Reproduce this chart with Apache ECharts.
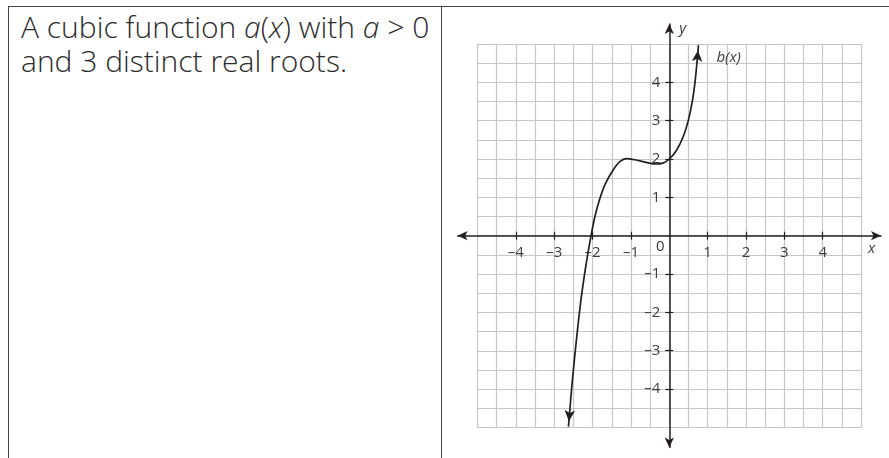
<!DOCTYPE html>
<html>
<head>
<meta charset="utf-8">
<script src="https://cdn.jsdelivr.net/npm/echarts@6/dist/echarts.min.js"></script>
<style>
  html, body { margin: 0; padding: 0; background: #fff; }
  #wrap { position: relative; width: 889px; height: 458px; overflow: hidden; }
  #cell { position: absolute; left: 8px; top: 6px; width: 432px; height: 470px;
          border-left: 1px solid #444; border-top: 1px solid #444; border-right: 1px solid #444; }
  #topline { position: absolute; left: 441px; top: 6px; width: 460px; border-top: 1px solid #444; }
  #txt { position: absolute; left: 21px; top: 10px; font-family: 'Open Sans', sans-serif; font-weight: 300;
         font-size: 30px; line-height: 34px; color: #2b2b2b; white-space: nowrap; }
  #main { position: absolute; left: 0; top: 0; width: 889px; height: 458px; }
</style>
</head>
<body>
<div id="wrap">
  <div id="cell"></div>
  <div id="topline"></div>
  <div id="txt">A cubic function <i>a</i>(<i>x</i>) with <i>a</i> &gt; 0<br>and 3 distinct real roots.</div>
  <div id="main"></div>
</div>
<script>
// 刻度
var xTicks = [-4, -3, -2, -1, 1, 2, 3, 4];
var xLabels = [-4, -3, -2, -1, 0, 1, 2, 3, 4];
var yTicks = [-4, -3, -2, -1, 1, 2, 3, 4];

// b(x) 曲线上读出的点
var curveX = [-2.63, -2.53, -2.42, -2.30, -2.17, -2.04, -1.94, -1.81, -1.66, -1.46, -1.29, -1.12, -0.90, -0.60, -0.35, -0.15, 0, 0.19, 0.37, 0.50, 0.60, 0.67, 0.72, 0.76];
var curveY = [-4.98, -3.80, -2.70, -1.65, -0.75, 0, 0.50, 0.97, 1.37, 1.72, 1.93, 2.01, 1.98, 1.91, 1.87, 1.90, 2.00, 2.23, 2.60, 3.02, 3.50, 4.00, 4.50, 4.97];

var gridMax = 5;		// 方格范围
var axisMax = 5.52;		// 坐标轴范围（含箭头）
var unit = 38.35;		// 每单位像素
var ox = 669.3, oy = 235.7;	// 原点
var shift = -axisMax * unit;	// 坐标轴移到 0 处

var ink = '#231f20';
var gridColor = '#c6c6c6';
var labelColor = '#3d3d3d';

function dash(v){
	return v < 0 ? '\u2013' + Math.abs(v) : '' + v;
}

// 端点箭头
function arrowItem(p, prev){
	var ang = Math.atan2(p[1] - prev[1], p[0] - prev[0]);
	var h = 11;
	return {
		value: p,
		symbol: 'arrow',
		symbolSize: [8, h],
		symbolRotate: ang * 180 / Math.PI - 90,
		symbolOffset: [-Math.cos(ang) * h / 2, Math.sin(ang) * h / 2]
	};
}

var pts = [];
for (var i = 0; i < curveX.length; i++) pts.push([curveX[i], curveY[i]]);
var lineData = pts.map(function(p){ return p; });
lineData[0] = arrowItem(pts[0], pts[1]);
lineData[pts.length - 1] = arrowItem(pts[pts.length - 1], pts[pts.length - 2]);

var chart = echarts.init(document.getElementById('main'));

var hidden = { show: false };
var option = {
	animation: false,
	grid: [
		{ left: ox - gridMax * unit, top: oy - gridMax * unit, width: 2 * gridMax * unit, height: 2 * gridMax * unit,
		  containLabel: false, outerBoundsMode: 'none' },
		{ left: ox - axisMax * unit, top: oy - axisMax * unit, width: 2 * axisMax * unit, height: 2 * axisMax * unit,
		  containLabel: false, outerBoundsMode: 'none' }
	],
	xAxis: [
		{
			type: 'value', gridIndex: 0, min: -gridMax, max: gridMax, interval: 0.5,
			axisLine: hidden, axisTick: hidden, axisLabel: hidden,
			splitLine: { show: true, lineStyle: { color: gridColor, width: 1.2 } }
		},
		{
			type: 'value', gridIndex: 1, min: -axisMax, max: axisMax, position: 'bottom', offset: shift,
			name: 'x', nameLocation: 'end', nameGap: -13,
			nameTextStyle: { fontFamily: 'Open Sans', fontStyle: 'italic', fontSize: 15, color: labelColor,
				verticalAlign: 'top', padding: [6, 0, 0, 0] },
			axisLine: { show: true, onZero: false, symbol: ['arrow', 'arrow'], symbolSize: [7, 10],
				lineStyle: { color: ink, width: 1.5 } },
			axisTick: { show: true, length: 4, customValues: xTicks, lineStyle: { color: ink, width: 1.2 } },
			axisLabel: {
				show: true, margin: 4, customValues: xLabels, fontFamily: 'Open Sans', fontSize: 15, color: labelColor,
				formatter: function(v){ return v === 0 ? '{z|0}' : '{n|' + dash(v) + '}'; },
				rich: {
					n: { fontFamily: 'Open Sans', fontSize: 15, color: labelColor, padding: [6, 0, 0, 0] },
					z: { fontFamily: 'Open Sans', fontSize: 15, color: labelColor, padding: [0, 18, 0, 0] }
				}
			},
			splitLine: hidden
		},
		{
			type: 'value', gridIndex: 1, min: -axisMax, max: axisMax, position: 'bottom', offset: shift,
			axisLine: { show: false, onZero: false },
			axisTick: { show: true, inside: true, length: 4, customValues: xTicks, lineStyle: { color: ink, width: 1.2 } },
			axisLabel: hidden, splitLine: hidden
		}
	],
	yAxis: [
		{
			type: 'value', gridIndex: 0, min: -gridMax, max: gridMax, interval: 0.5,
			axisLine: hidden, axisTick: hidden, axisLabel: hidden,
			splitLine: { show: true, lineStyle: { color: gridColor, width: 1.2 } }
		},
		{
			type: 'value', gridIndex: 1, min: -axisMax, max: axisMax, position: 'left', offset: shift,
			name: 'y', nameLocation: 'end', nameGap: -12,
			nameTextStyle: { fontFamily: 'Open Sans', fontStyle: 'italic', fontSize: 15, color: labelColor,
				align: 'left', padding: [0, 0, 0, 10] },
			axisLine: { show: true, onZero: false, symbol: ['arrow', 'arrow'], symbolSize: [7, 10],
				lineStyle: { color: ink, width: 1.5 } },
			axisTick: { show: true, length: 4, customValues: yTicks, lineStyle: { color: ink, width: 1.2 } },
			axisLabel: {
				show: true, margin: 9, customValues: yTicks, fontFamily: 'Open Sans', fontSize: 15, color: labelColor,
				formatter: dash
			},
			splitLine: hidden
		},
		{
			type: 'value', gridIndex: 1, min: -axisMax, max: axisMax, position: 'left', offset: shift,
			axisLine: { show: false, onZero: false },
			axisTick: { show: true, inside: true, length: 4, customValues: yTicks, lineStyle: { color: ink, width: 1.2 } },
			axisLabel: hidden, splitLine: hidden
		}
	],
	series: [
		{
			name: 'b(x)',
			type: 'line',
			xAxisIndex: 1,
			yAxisIndex: 1,
			smooth: 0.3,
			symbol: 'none',
			clip: false,
			lineStyle: { color: ink, width: 1.7 },
			itemStyle: { color: ink },
			endLabel: {
				show: true,
				formatter: 'b(x)',
				fontFamily: 'Open Sans',
				fontStyle: 'italic',
				fontSize: 15,
				color: labelColor,
				offset: [10, 13]
			},
			data: lineData
		}
	]
};
chart.setOption(option);
</script>
</body>
</html>
